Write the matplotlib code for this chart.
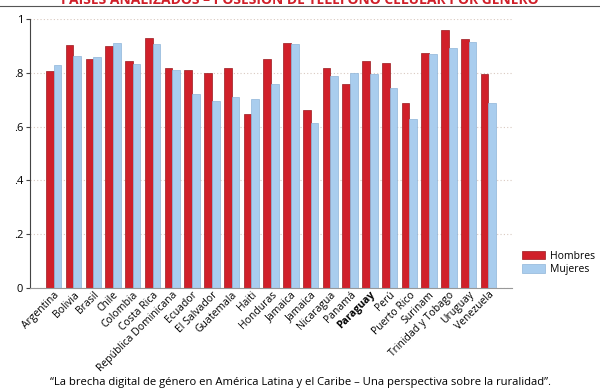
import matplotlib.pyplot as plt
import numpy as np

plt.rcParams["font.family"] = ["Open Sans", "DejaVu Sans"]

# países y valores (proporción con teléfono celular)
paises = [
    "Argentina", "Bolivia", "Brasil", "Chile", "Colombia", "Costa Rica",
    "República Dominicana", "Ecuador", "El Salvador", "Guatemala", "Haiti",
    "Honduras", "Jamaica", "Jamaica", "Nicaragua", "Panamá", "Paraguay",
    "Perú", "Puerto Rico", "Surinam", "Trinidad y Tobago", "Uruguay",
    "Venezuela",
]
hombres = [
    0.807, 0.902, 0.850, 0.898, 0.845, 0.928, 0.819, 0.812, 0.798, 0.817,
    0.648, 0.850, 0.911, 0.662, 0.817, 0.758, 0.845, 0.835, 0.688, 0.872,
    0.959, 0.924, 0.794,
]
mujeres = [
    0.830, 0.862, 0.857, 0.910, 0.834, 0.907, 0.812, 0.722, 0.695, 0.709,
    0.704, 0.758, 0.906, 0.612, 0.787, 0.799, 0.797, 0.743, 0.630, 0.870,
    0.892, 0.914, 0.689,
]

titulo = "PAÍSES ANALIZADOS – POSESIÓN DE TELÉFONO CELULAR POR GÉNERO"
fuente = "“La brecha digital de género en América Latina y el Caribe – Una perspectiva sobre la ruralidad”."

rojo = "#d0202a"
azul = "#a9cdee"

fig = plt.figure(figsize=(6, 3.89), dpi=100)
ax = fig.add_axes([0.05, 0.2596, 0.803, 0.6915])

x = np.arange(len(paises))
w = 0.39
ax.bar(x - w / 2, hombres, w, color=rojo, edgecolor="#9a1a1f", linewidth=0.5, label="Hombres")
ax.bar(x + w / 2, mujeres, w, color=azul, edgecolor="#8fb5d8", linewidth=0.5, label="Mujeres")

ax.set_xlim(-1.2, 23.18)
ax.set_ylim(0, 1)

# ejes estilo Stata
ax.set_yticks([0, 0.2, 0.4, 0.6, 0.8, 1])
ax.set_yticklabels(["0", ".2", ".4", ".6", ".8", "1"], fontsize=8)
ax.yaxis.grid(True, linestyle=(0, (1, 2)), color="#d9c9c0", linewidth=0.8)
ax.set_axisbelow(True)
for s in ["top", "right"]:
    ax.spines[s].set_visible(False)
ax.spines["left"].set_color("#444444")
ax.spines["bottom"].set_color("#999999")
ax.spines["bottom"].set_linewidth(0.8)
ax.tick_params(axis="y", length=3, width=0.8, color="#444444", pad=2)
ax.tick_params(axis="x", length=0, pad=1)

ax.set_xticks(x)
ax.set_xticklabels(paises, rotation=45, ha="right", rotation_mode="anchor", fontsize=7.5)
for lbl in ax.get_xticklabels():
    if lbl.get_text() == "Paraguay":
        lbl.set_fontweight("bold")

fig.legend(loc="center left", bbox_to_anchor=(522 / 600, 1 - 263 / 389), frameon=False,
           fontsize=7.5, handlelength=2.2, handleheight=0.9, handletextpad=0.5,
           labelspacing=0.25, borderaxespad=0, borderpad=0)

# título cortado arriba y línea
fig.text(0.5, 1.0, titulo, ha="center", va="center", color=rojo, fontsize=10, fontweight="bold")
fig.add_artist(plt.Line2D([0, 1], [1 - 6 / 389, 1 - 6 / 389], color="#555555", linewidth=0.8))

fig.text(0.5, 1 - 383 / 389, fuente, ha="center", va="center", fontsize=8.1)

fig.savefig("out.png", dpi=100)
